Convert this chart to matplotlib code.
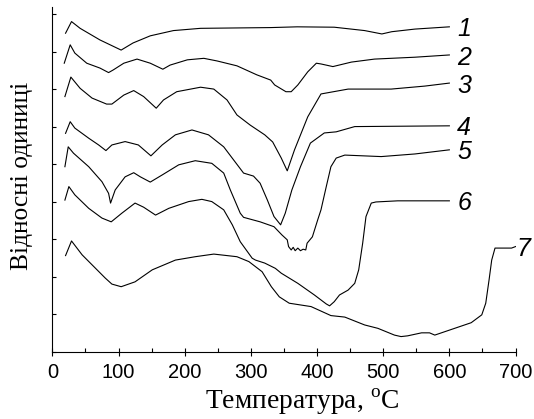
import matplotlib
matplotlib.use('Agg')
import matplotlib.pyplot as plt
import numpy as np

plt.rcParams['font.family'] = 'Liberation Sans'
plt.rcParams['mathtext.fontset'] = 'custom'
plt.rcParams['mathtext.rm'] = 'Liberation Serif'

# temperature (C) and relative signal for each sample
T1 = [20, 29, 42, 72, 104, 122, 148, 183, 224, 330, 370, 426, 472, 498, 513, 548, 600]
Y1 = [8.50, 8.81, 8.63, 8.32, 8.05, 8.24, 8.43, 8.57, 8.63, 8.65, 8.67, 8.66, 8.57, 8.48, 8.54, 8.61, 8.67]

T2 = [18, 27, 34, 52, 72, 85, 92, 108, 128, 148, 167, 178, 204, 229, 249, 279, 309, 330, 336, 353,
      361, 371, 386, 399, 406, 424, 452, 487, 548, 600]
Y2 = [7.70, 8.19, 7.97, 7.70, 7.57, 7.45, 7.52, 7.70, 7.81, 7.70, 7.54, 7.65, 7.79, 7.83, 7.76, 7.63,
      7.39, 7.25, 7.12, 6.94, 6.94, 7.12, 7.47, 7.70, 7.68, 7.61, 7.73, 7.81, 7.86, 7.92]

T3 = [19, 28, 42, 60, 82, 90, 108, 123, 138, 157, 168, 188, 224, 244, 264, 279, 299, 321, 333, 346,
      355, 366, 386, 406, 447, 512, 563, 600]
Y3 = [6.81, 7.33, 7.03, 6.77, 6.61, 6.61, 6.85, 6.97, 6.81, 6.50, 6.72, 6.94, 7.06, 7.01, 6.72, 6.32,
      6.05, 5.79, 5.60, 5.17, 4.83, 5.39, 6.27, 6.88, 7.01, 7.01, 7.09, 7.17]

T4 = [20, 27, 34, 55, 70, 81, 90, 110, 130, 149, 166, 186, 211, 236, 259, 274, 289, 304, 314, 325,
      335, 345, 352, 362, 375, 390, 411, 429, 457, 600]
Y4 = [5.83, 6.14, 5.97, 5.70, 5.52, 5.37, 5.52, 5.61, 5.52, 5.23, 5.52, 5.79, 5.92, 5.79, 5.47, 5.12,
      4.77, 4.69, 4.50, 4.05, 3.61, 3.39, 3.70, 4.32, 4.94, 5.57, 5.84, 5.87, 6.01, 6.03]

T5 = [19, 24, 32, 55, 75, 85, 88, 95, 110, 123, 133, 148, 166, 191, 216, 241, 259, 269, 284, 289,
      314, 335, 347, 355, 357, 361, 364, 367, 371, 375, 379, 383, 385, 393, 401, 406, 414, 421, 429,
      442, 497, 548, 600]
Y5 = [4.94, 5.47, 5.30, 4.94, 4.54, 4.23, 3.97, 4.32, 4.67, 4.78, 4.67, 4.53, 4.72, 4.99, 5.10, 5.03,
      4.77, 4.32, 3.70, 3.59, 3.47, 3.34, 3.12, 2.99, 2.81, 2.72, 2.79, 2.70, 2.77, 2.70, 2.74, 2.72,
      2.90, 3.07, 3.52, 3.79, 4.41, 4.94, 5.17, 5.25, 5.21, 5.28, 5.39]

T6 = [19, 25, 34, 55, 75, 89, 105, 125, 138, 156, 176, 206, 226, 241, 259, 272, 284, 302, 307, 321,
      337, 346, 371, 396, 414, 419, 426, 434, 447, 457, 463, 469, 474, 482, 489, 522, 600]
Y6 = [4.05, 4.41, 4.19, 3.83, 3.57, 3.47, 3.70, 3.97, 3.86, 3.65, 3.83, 4.01, 4.07, 4.01, 3.79, 3.39,
      2.94, 2.50, 2.45, 2.37, 2.23, 2.10, 1.83, 1.52, 1.28, 1.23, 1.34, 1.52, 1.65, 1.83, 2.19, 2.90,
      3.61, 3.97, 4.00, 4.03, 4.03]

T7 = [20, 29, 45, 80, 90, 104, 125, 151, 186, 216, 244, 279, 297, 317, 331, 343, 358, 391, 421, 442,
      472, 492, 517, 527, 537, 558, 570, 578, 588, 608, 633, 649, 655, 660, 664, 669, 684, 694, 700]
Y7 = [2.57, 2.96, 2.59, 1.97, 1.81, 1.74, 1.87, 2.19, 2.45, 2.54, 2.61, 2.54, 2.41, 2.14, 1.74, 1.47,
      1.30, 1.21, 0.97, 0.93, 0.72, 0.63, 0.45, 0.41, 0.43, 0.51, 0.51, 0.45, 0.51, 0.63, 0.78, 0.99,
      1.30, 1.92, 2.45, 2.77, 2.77, 2.77, 2.81]

curves = [(T1, Y1), (T2, Y2), (T3, Y3), (T4, Y4), (T5, Y5), (T6, Y6), (T7, Y7)]
names = ['1', '2', '3', '4', '5', '6', '7']

fig = plt.figure(figsize=(5.34, 4.19), dpi=100)
ax = fig.add_axes([0.098, 0.16, 0.8674, 0.8234])

for (t, y), name in zip(curves, names):
    ax.plot(t, y, color='black', lw=0.8)
    gap = 2 if name == '7' else 12
    ax.text(t[-1] + gap, y[-1] - 0.07, name, fontsize=18, style='italic',
            ha='left', va='center', clip_on=False)

ax.set_xlim(0, 700)
ax.set_ylim(0, 9.2)
ax.set_xticks(np.arange(0, 701, 100))
ax.set_xticks(np.arange(50, 700, 100), minor=True)
ax.set_yticks(np.arange(0, 10, 1))
ax.set_yticklabels([])
ax.spines['top'].set_visible(False)
ax.spines['right'].set_visible(False)
ax.tick_params(axis='x', which='major', direction='inout', length=6, width=0.8,
               labelsize=14.5, pad=5)
ax.tick_params(axis='x', which='minor', direction='in', length=3, width=0.8)
ax.tick_params(axis='y', which='major', direction='in', length=3, width=0.8)

ax.set_xlabel(r'Температура, $^{\rm o}$C', fontfamily='Liberation Serif', fontsize=19.8)
ax.xaxis.set_label_coords(0.539, -0.102)
ax.set_ylabel('Відносні одиниці', fontfamily='Liberation Serif', fontsize=18.3)
ax.yaxis.set_label_coords(-0.041, 0.51)

fig.savefig('out.png', dpi=100)
